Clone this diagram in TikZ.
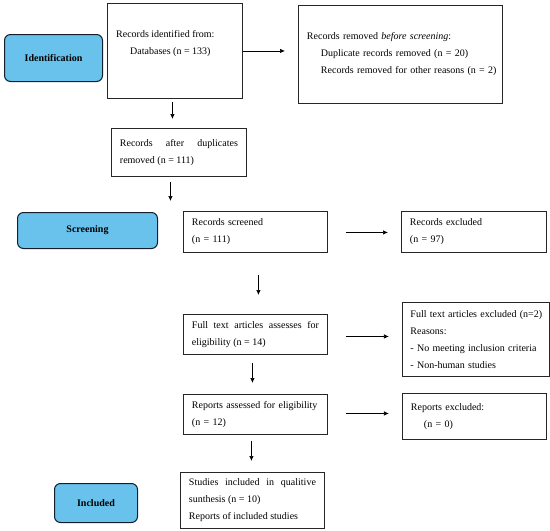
\documentclass[tikz,border=0pt]{standalone}
\usepackage{fontspec}
\setmainfont{Liberation Serif}
\usetikzlibrary{calc,arrows.meta}
\definecolor{stagefill}{RGB}{104,194,236}
\definecolor{stageline}{RGB}{20,30,45}
\begin{document}
\begin{tikzpicture}[x=1pt,y=-1pt,
  box/.style={draw=black!85, line width=0.9pt, anchor=north west, inner xsep=8.5pt, inner ysep=0pt,
    font=\fontsize{10}{17}\selectfont, align=left},
  jbox/.style={box, align=justify},
  stage/.style={draw=stageline, fill=stagefill, rounded corners=6pt, line width=1pt,
    font=\bfseries\fontsize{10}{11}\selectfont, anchor=north west, inner sep=0pt},
  txt/.style={anchor=north west, inner sep=0pt, font=\fontsize{10}{17}\selectfont, align=left},
  arr/.style={-{Latex[length=5pt,width=4.5pt]}, line width=0.7pt}]
\useasboundingbox (0,0) rectangle (550,531);

% stage labels
\node[stage, minimum width=98pt, minimum height=47pt] (s1) at (4,34) {Identification};
\node[stage, minimum width=140pt, minimum height=36pt] (s2) at (17,212) {Screening};
\node[stage, minimum width=83pt, minimum height=39pt] (s3) at (54,483) {Included};

% boxes
\node[box, minimum width=135pt, minimum height=95pt] (b1) at (107,3) {};
\node[txt] (t1) at (116,30) {Records identified from:\\\hspace*{14pt}Databases (n = 133)};
\node[box, minimum width=204pt, minimum height=98pt, text width=187pt] (b2) at (298,5)
  {Records removed \textit{before screening}:\\\hspace*{14pt}\mbox{Duplicate records removed (n = 20)}\\\hspace*{14pt}\mbox{Records removed for other reasons (n = 2)}};
\node[jbox, minimum width=135pt, minimum height=48pt, text width=118pt] (b3) at (111,128)
  {Records after duplicates\linebreak removed (n = 111)};
\node[box, minimum width=144pt, minimum height=41pt, text width=127pt] (b4) at (183,211)
  {Records screened\\(n = 111)};
\node[box, minimum width=145pt, minimum height=41pt, text width=128pt] (b5) at (401,211)
  {Records excluded\\(n = 97)};
\node[jbox, minimum width=144pt, minimum height=40pt, text width=127pt] (b6) at (183,314)
  {Full text articles assesses for\linebreak eligibility (n = 14)};
\node[box, minimum width=147pt, minimum height=74pt, text width=131pt, inner xsep=8pt] (b7) at (402,302)
  {\mbox{Full text articles excluded (n=2)}\\Reasons:\\- No meeting inclusion criteria\\- Non-human studies};
\node[box, minimum width=144pt, minimum height=40pt, text width=127pt] (b8) at (183,394)
  {\mbox{Reports assessed for eligibility}\\(n = 12)};
\node[box, minimum width=144pt, minimum height=46pt, text width=127pt] (b9) at (402,393)
  {Reports excluded:\\\hspace*{13pt}(n = 0)};
\node[jbox, minimum width=144pt, minimum height=56pt, text width=127pt] (b10) at (180,472)
  {Studies included in qualitive\linebreak sunthesis (n = 10)\\Reports of included studies};

% connectors
\draw[arr] (b1.east) -- ($(b2.west|-b1.east)+(-13,0)$);
\coordinate (a2s) at ($(b1.south)+(-2.5,3)$);
\coordinate (a2e) at ($(b3.north)+(0,-9)$);
\draw[arr] (a2s) -- (a2s|-a2e);
\coordinate (a3s) at ($(b3.south)+(-8.5,5)$);
\coordinate (a3e) at ($(b4.north)+(0,-10)$);
\draw[arr] (a3s) -- (a3s|-a3e);
\draw[arr] ($(b4.east)+(18,0.5)$) -- ($(b5.west)+(-13,0.5)$);
\coordinate (a5s) at ($(b4.south)+(3,22)$);
\coordinate (a5e) at ($(b6.north)+(0,-19)$);
\draw[arr] (a5s) -- (a5s|-a5e);
\draw[arr] ($(b6.east)+(18,2)$) -- ($(b6.east)+(61,2)$);
\coordinate (a7s) at ($(b6.south)+(-3,8)$);
\coordinate (a7e) at ($(b8.north)+(0,-11)$);
\draw[arr] (a7s) -- (a7s|-a7e);
\draw[arr] ($(b8.east)+(18,-1)$) -- ($(b8.east)+(61,-1)$);
\coordinate (a9s) at ($(b8.south)+(-4,6)$);
\coordinate (a9e) at ($(b10.north)+(0,-11)$);
\draw[arr] (a9s) -- (a9s|-a9e);
\end{tikzpicture}
\end{document}
